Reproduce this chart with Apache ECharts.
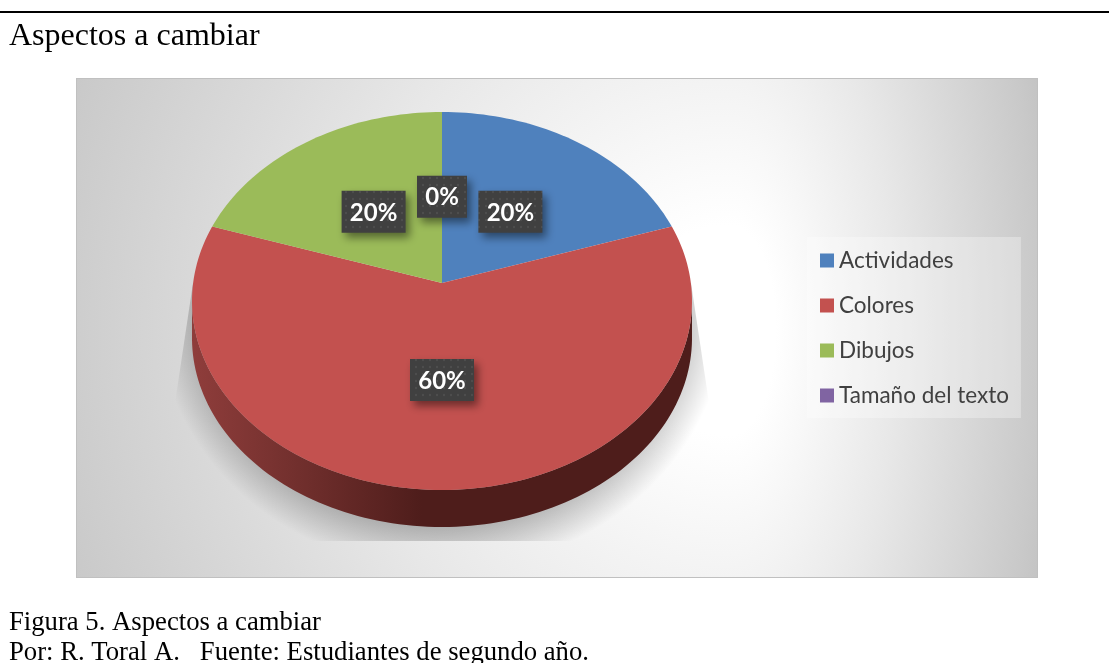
<!DOCTYPE html>
<html>
<head>
<meta charset="utf-8">
<title>Aspectos a cambiar</title>
<script src="https://cdn.jsdelivr.net/npm/echarts@6/dist/echarts.min.js"></script>
<style>
  html, body { margin: 0; padding: 0; background: #fff; }
  #chart { width: 1109px; height: 663px; }
</style>
</head>
<body>
<div id="chart"></div>
<script>
var categories = ["Actividades", "Colores", "Dibujos", "Tamaño del texto"];
var percentages = [20, 60, 20, 0];
var colors = ["#4f81bd", "#c3514f", "#9bbb59", "#8064a2"];

// pie is tilted: top face is an ellipse, the centre sits above the ellipse middle
var apexY = 0.095;
var wallDepth = 0.196;

// dotted tile for the data label boxes
function labelTile() {
  var c = document.createElement("canvas");
  c.width = 14;
  c.height = 14;
  var ctx = c.getContext("2d");
  ctx.fillStyle = "#404040";
  ctx.fillRect(0, 0, 14, 14);
  ctx.fillStyle = "#4e4e4e";
  [[3, 3], [10, 3], [3, 10], [10, 10]].forEach(function (p) {
    ctx.beginPath();
    ctx.arc(p[0], p[1], 1.2, 0, Math.PI * 2);
    ctx.fill();
  });
  return c;
}
var tile = labelTile();

function rimPoint(t, apex) {
  var a = t * Math.PI * 2;
  var dx = Math.sin(a), dy = Math.cos(a);
  var b = apex * dy;
  var s = -b + Math.sqrt(b * b + 1 - apex * apex);
  return [s * dx, apex + s * dy];
}

function sliceRenderer(color) {
  return function (params, api) {
    var start = api.value(0), end = api.value(1), pct = api.value(2);
    var children = [];
    var rim = [];
    var steps = Math.max(2, Math.round((end - start) * 240));
    if (end > start) {
      for (var i = 0; i <= steps; i++) {
        rim.push(rimPoint(start + (end - start) * i / steps, apexY));
      }
      // side wall, only where the rim faces the viewer
      var front = rim.filter(function (p) { return p[1] <= 0; });
      if (front.length > 1) {
        var wall = front.map(function (p) { return api.coord(p); });
        front.slice().reverse().forEach(function (p) {
          wall.push(api.coord([p[0], p[1] - wallDepth]));
        });
        children.push({
          type: "polygon",
          shape: { points: wall },
          style: {
            fill: {
              type: "linear", x: 0, y: 0, x2: 1, y2: 0,
              colorStops: [
                { offset: 0, color: "#8f3d3b" },
                { offset: 0.2, color: "#73302e" },
                { offset: 0.38, color: "#5a2321" },
                { offset: 0.46, color: "#4e1d1b" },
                { offset: 1, color: "#4e1d1b" }
              ]
            }
          }
        });
      }
      var top = rim.map(function (p) { return api.coord(p); });
      top.push(api.coord([0, apexY]));
      children.push({
        type: "polygon",
        shape: { points: top },
        style: { fill: color }
      });
    }
    // data label
    var mid = (start + end) / 2;
    var ratio = mid > 0.25 && mid < 0.75 ? 0.469 : 0.505;
    var edge = rimPoint(mid, apexY);
    var c = api.coord([edge[0] * ratio, apexY + (edge[1] - apexY) * ratio]);
    var w = pct >= 10 ? 64 : 50;
    var h = 42;
    children.push({
      type: "rect",
      shape: { x: c[0] - w / 2, y: c[1] - h / 2, width: w, height: h },
      style: {
        fill: { image: tile, repeat: "repeat" },
        shadowBlur: 8,
        shadowOffsetX: 4,
        shadowOffsetY: 5,
        shadowColor: "rgba(0,0,0,0.45)"
      }
    });
    children.push({
      type: "text",
      x: c[0],
      y: c[1] + 1,
      style: {
        text: pct + "%",
        fill: "#fff",
        font: "bold 24px Lato",
        align: "center",
        verticalAlign: "middle"
      }
    });
    return { type: "group", children: children };
  };
}

var total = percentages.reduce(function (a, b) { return a + b; }, 0);
var running = 0;
var series = categories.map(function (name, i) {
  var start = running / total;
  running += percentages[i];
  return {
    name: name,
    type: "custom",
    silent: true,
    itemStyle: { color: colors[i] },
    renderItem: sliceRenderer(colors[i]),
    data: [[start, running / total, percentages[i]]]
  };
});

// panel background: off-centre radial, stretched differently on each side of the hot spot
var panelStops = [
  { offset: 0, color: "#ffffff" },
  { offset: 0.13, color: "#ffffff" },
  { offset: 0.47, color: "#e8e8e8" },
  { offset: 0.87, color: "#c9c9c9" },
  { offset: 1, color: "#bdbdbd" }
];
function panelHalf(cx, cy, rx, ry, x0, x1, y0, y1) {
  return {
    type: "rect", z: -8,
    x: cx, y: cy, scaleX: rx, scaleY: ry,
    shape: { x: (x0 - cx) / rx, y: (y0 - cy) / ry, width: (x1 - x0) / rx, height: (y1 - y0) / ry },
    style: { fill: { type: "radial", global: true, x: 0, y: 0, r: 1.15, colorStops: panelStops } }
  };
}

// soft floor shadow, cut off with hard edges like the original picture
var sx = 442, syc = 310, srx = 285, sry = 260;
function shadowPt(x, y) { return [(x - sx) / srx, (y - syc) / sry]; }

var chart = echarts.init(document.getElementById("chart"), null, { renderer: "canvas" });
chart.setOption({
  animation: false,
  backgroundColor: "#fff",
  title: {
    text: "Aspectos a cambiar",
    left: 9,
    top: 21,
    padding: 0,
    textStyle: { fontFamily: "Liberation Serif", fontSize: 32, fontWeight: "normal", color: "#000" }
  },
  legend: {
    orient: "vertical",
    left: 807,
    top: 237,
    padding: [12, 12, 11, 13],
    itemWidth: 14,
    itemHeight: 14,
    itemGap: 22,
    icon: "rect",
    selectedMode: false,
    backgroundColor: "rgba(255,255,255,0.3)",
    data: categories,
    textStyle: { fontFamily: "Lato", fontSize: 22.5, color: "#404040" }
  },
  grid: { left: 192, top: 112, width: 500, height: 415 },
  xAxis: { type: "value", min: -1, max: 1, show: false },
  yAxis: { type: "value", min: -1 - wallDepth, max: 1, show: false },
  graphic: [
    { type: "rect", z: -10, shape: { x: 0, y: 11, width: 1109, height: 2 }, style: { fill: "#000" } },
    {
      type: "rect", z: -9,
      shape: { x: 76, y: 78, width: 962, height: 500 },
      style: { fill: "#c0c0c0" }
    },
    panelHalf(730, 330, 700, 700, 77, 730, 79, 577),
    panelHalf(730, 330, 307, 700, 730, 1037, 79, 577),
    {
      type: "polygon", z: -7,
      x: sx, y: syc, scaleX: srx, scaleY: sry,
      shape: {
        points: [shadowPt(193, 283), shadowPt(175, 403), shadowPt(175, 541), shadowPt(709, 541), shadowPt(709, 403), shadowPt(691, 283)]
      },
      style: {
        fill: {
          type: "radial", global: true, x: 0, y: 0, r: 1,
          colorStops: [
            { offset: 0, color: "rgba(0,0,0,0.3)" },
            { offset: 0.8, color: "rgba(0,0,0,0.3)" },
            { offset: 1, color: "rgba(0,0,0,0)" }
          ]
        }
      }
    },
    {
      type: "text", z: 5, x: 9, y: 609,
      style: { text: "Figura 5. Aspectos a cambiar", fill: "#000", font: "26.7px Liberation Serif" }
    },
    {
      type: "text", z: 5, x: 9, y: 639,
      style: { text: "Por: R. Toral A.   Fuente: Estudiantes de segundo año.", fill: "#000", font: "26.7px Liberation Serif" }
    }
  ],
  series: series
});
</script>
</body>
</html>
